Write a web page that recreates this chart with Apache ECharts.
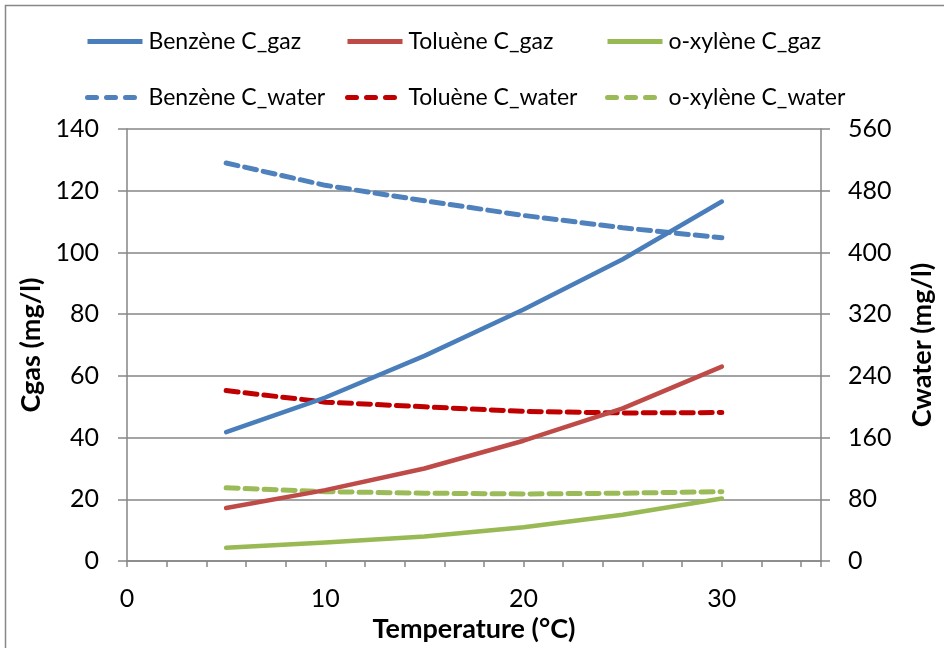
<!DOCTYPE html>
<html>
<head>
<meta charset="utf-8">
<script src="https://cdn.jsdelivr.net/npm/echarts@6/dist/echarts.min.js"></script>
<style>
html,body{margin:0;padding:0;background:#fff;}
#chart{width:944px;height:648px;}
</style>
</head>
<body>
<div id="chart"></div>
<script>
// ---- data ----
var temps = [5, 10, 15, 20, 25, 30];
var benzeneGas = [41.8, 53, 66.5, 81.5, 97.8, 116.5];
var tolueneGas = [17.2, 23, 30, 39, 49.5, 63];
var xyleneGas = [4.3, 6, 8, 11, 15, 20.3];
var benzeneWater = [516, 487, 467, 448, 432, 419];
var tolueneWater = [221, 206, 200, 194, 192, 192.5];
var xyleneWater = [95, 90, 88, 87, 88, 90];
var seriesNames = ['Benzène C_gaz', 'Toluène C_gaz', 'o-xylène C_gaz',
                   'Benzène C_water', 'Toluène C_water', 'o-xylène C_water'];
var xAxisName = 'Temperature (°C)';
var yLeftName = 'Cgas (mg/l)';
var yRightName = 'Cwater (mg/l)';

function pairs(xs, ys) { return xs.map(function (x, i) { return [x, ys[i]]; }); }

var FONT = 'Lato';
var axisGray = '#868686';
var colors = ['#4A7EBB', '#BE4B48', '#98B954', '#4F81BD', '#C00000', '#9BBB59'];
var allData = [benzeneGas, tolueneGas, xyleneGas, benzeneWater, tolueneWater, xyleneWater];

var series = allData.map(function (vals, i) {
  var dashed = i >= 3;
  return {
    name: seriesNames[i],
    type: 'line',
    yAxisIndex: dashed ? 1 : 0,
    data: pairs(temps, vals),
    symbol: 'none',
    smooth: false,
    z: dashed ? 3 : 4,
    lineStyle: {
      color: colors[i],
      width: dashed ? 5 : 4.5,
      type: dashed ? [12, 7] : 'solid',
      cap: 'round',
      join: 'round'
    },
    itemStyle: { color: colors[i] }
  };
});

var legendLefts = [85, 345, 605];
var legends = seriesNames.map(function (n, i) {
  var dashed = i >= 3;
  return {
    data: [n],
    left: legendLefts[i % 3],
    top: i < 3 ? 30 : 86,
    itemWidth: 55,
    itemHeight: 14,
    itemGap: 0,
    padding: 0,
    selectedMode: false,
    itemStyle: { opacity: 0 },
    lineStyle: { width: 5, cap: dashed ? 'round' : 'butt', type: dashed ? [9, 10] : 'solid' },
    textStyle: { fontFamily: FONT, fontSize: 23, color: '#000', padding: [0, 0, 0, 1] }
  };
});

var option = {
  animation: false,
  backgroundColor: '#fff',
  graphic: [{
    type: 'rect',
    shape: { x: 5.5, y: 5.5, width: 1000, height: 1000 },
    style: { fill: 'none', stroke: '#878787', lineWidth: 1.5 },
    silent: true, z: -10
  }],
  legend: legends,
  grid: { left: 127, right: 119, top: 129, bottom: 85, containLabel: false },
  xAxis: {
    type: 'value',
    min: 0, max: 35, interval: 2,
    name: xAxisName,
    nameLocation: 'middle',
    nameGap: 52,
    nameTextStyle: { fontFamily: FONT, fontSize: 27, fontWeight: 'bold', color: '#000' },
    axisLine: { show: true, lineStyle: { color: axisGray, width: 1.5 } },
    axisTick: { show: true, length: 6, lineStyle: { color: axisGray, width: 1.5 } },
    axisLabel: {
      fontFamily: FONT, fontSize: 25, color: '#000', margin: 25,
      formatter: function (v) { return v % 10 === 0 ? String(v) : ''; }
    },
    splitLine: { show: false }
  },
  yAxis: [{
    type: 'value',
    min: 0, max: 140, interval: 20,
    position: 'left',
    name: yLeftName,
    nameLocation: 'middle',
    nameRotate: 90,
    nameGap: 81,
    nameTextStyle: { fontFamily: FONT, fontSize: 27, fontWeight: 'bold', color: '#000' },
    axisLine: { show: true, lineStyle: { color: axisGray, width: 1.5 } },
    axisTick: { show: true, length: 9, lineStyle: { color: axisGray, width: 1.5 } },
    axisLabel: { fontFamily: FONT, fontSize: 25, color: '#000', margin: 28 },
    splitLine: { show: true, lineStyle: { color: axisGray, width: 1.5 } }
  }, {
    type: 'value',
    min: 0, max: 560, interval: 80,
    position: 'right',
    name: yRightName,
    nameLocation: 'middle',
    nameRotate: 90,
    nameGap: 88,
    nameTextStyle: { fontFamily: FONT, fontSize: 27, fontWeight: 'bold', color: '#000' },
    axisLine: { show: true, lineStyle: { color: axisGray, width: 1.5 } },
    axisTick: { show: true, length: 9, lineStyle: { color: axisGray, width: 1.5 } },
    axisLabel: { fontFamily: FONT, fontSize: 25, color: '#000', margin: 27 },
    splitLine: { show: false }
  }],
  series: series
};

var chart = echarts.init(document.getElementById('chart'), null, { renderer: 'canvas' });
chart.setOption(option);
</script>
</body>
</html>
